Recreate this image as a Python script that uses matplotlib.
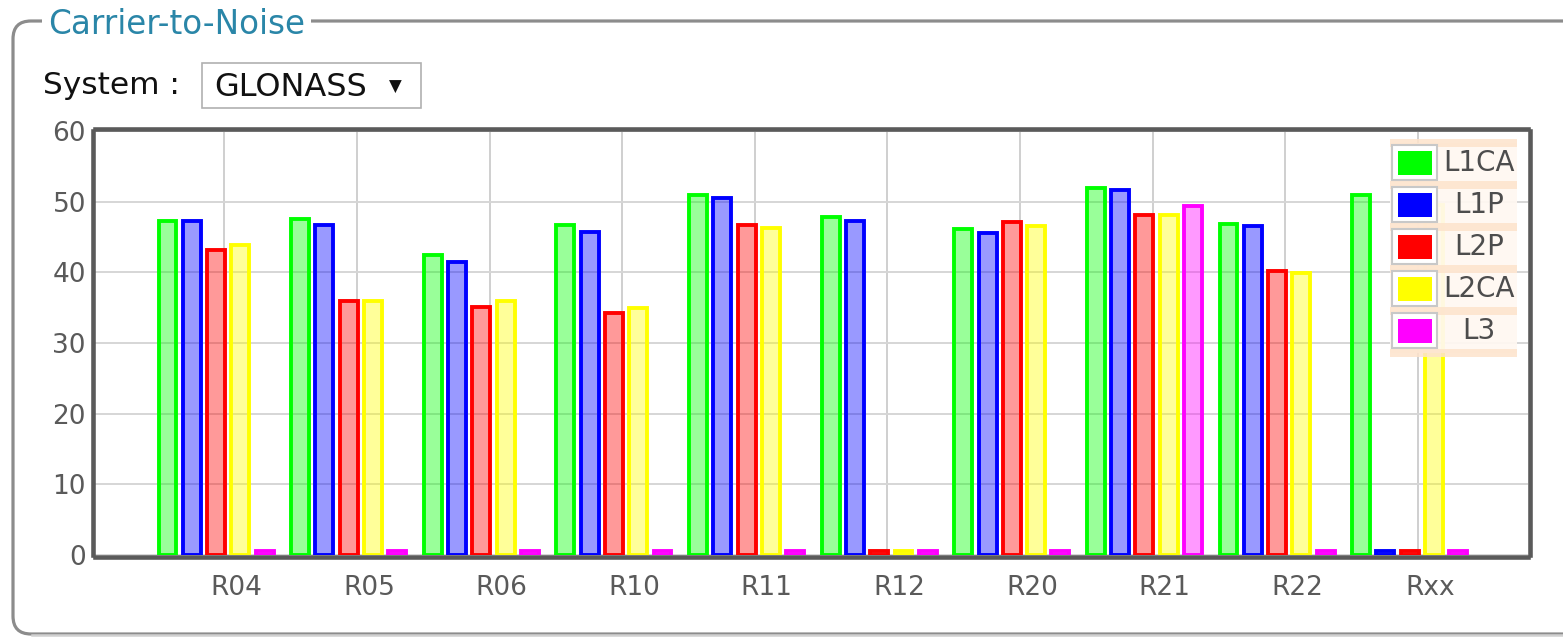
import matplotlib
matplotlib.use('Agg')
import matplotlib.pyplot as plt
import numpy as np
from matplotlib.colors import to_rgba
from matplotlib.patches import Rectangle, FancyBboxPatch

# carrier-to-noise per satellite (dB-Hz)
sats = ['R04', 'R05', 'R06', 'R10', 'R11', 'R12', 'R20', 'R21', 'R22', 'Rxx']
l1ca = [47.3, 47.6, 42.4, 46.7, 51.0, 47.9, 46.1, 51.9, 46.8, 51.0]
l1p = [47.3, 46.7, 41.4, 45.7, 50.5, 47.3, 45.6, 51.6, 46.5, 0]
l2p = [43.1, 36.0, 35.1, 34.3, 46.7, 0, 47.1, 48.1, 40.2, 0]
l2ca = [43.9, 36.0, 36.0, 35.0, 46.3, 0, 46.6, 48.1, 39.9, 49.5]
l3 = [0, 0, 0, 0, 0, 0, 0, 49.4, 0, 0]

names = ['L1CA', 'L1P', 'L2P', 'L2CA', 'L3']
series = [l1ca, l1p, l2p, l2ca, l3]
colors = ['#00ff00', '#0000ff', '#ff0000', '#ffff00', '#ff00ff']

W, H = 1563, 637
fig = plt.figure(figsize=(W / 100, H / 100), dpi=100)

# background layer in pixel coords: fieldset frame, title, system selector
bg = fig.add_axes([0, 0, 1, 1])
bg.set_xlim(0, W)
bg.set_ylim(H, 0)
bg.axis('off')

frame = FancyBboxPatch((13, 21), 1700, 613, boxstyle='round,pad=0,rounding_size=18',
                       fc='white', ec='#8c8c8c', lw=2.3)
bg.add_patch(frame)
bg.plot([32, W], [634.5, 634.5], color='#d0d0d0', lw=1.8)
bg.text(48, 25, 'Carrier-to-Noise', color='#2a86a8', fontsize=23.5, va='center', ha='left',
        bbox=dict(facecolor='white', edgecolor='none', pad=4))
bg.text(43, 86, 'System :', fontsize=22.5, va='center', ha='left', color='#111111')
bg.add_patch(Rectangle((202, 63), 219, 45, fc='white', ec='#b0b0b0', lw=1.2))
bg.text(214, 87, 'GLONASS', fontsize=23, va='center', ha='left', color='#111111')
bg.text(395, 87, '\u25bc', fontsize=12, va='center', ha='center', color='#111111')

# chart
ax = fig.add_axes([95 / W, 1 - 555 / H, (1528 - 95) / W, (555 - 131) / H])
x = np.arange(len(sats))
offsets = [-0.428, -0.245, -0.062, 0.121, 0.304]
for k in range(len(series)):
    v = np.array(series[k], dtype=float)
    shown = np.where(v > 0, v, 0.5)  # library draws empty values as a small stub
    ax.bar(x + offsets[k], shown, width=0.135, color=to_rgba(colors[k], 0.4),
           edgecolor=colors[k], linewidth=2.8, zorder=3)

ax.set_xlim(-0.975, 9.83)
ax.set_ylim(0, 60)
ax.set_yticks(np.arange(0, 61, 10))
ax.set_xticks(x + 0.09, sats)
ax.set_xticks(x, minor=True)
ax.grid(which='minor', axis='x', color='#cfcfcf', lw=1.4, zorder=0)
ax.grid(which='major', axis='y', color='#d6d6d6', lw=1.4, zorder=0)
ax.tick_params(which='both', length=0)
ax.tick_params(axis='y', labelsize=19, labelcolor='#5a5a5a', pad=5)
ax.tick_params(axis='x', labelsize=19, labelcolor='#5a5a5a', pad=13)
for s in ax.spines.values():
    s.set_color('#5a5a5a')
    s.set_linewidth(3.3)
    s.set_position(('outward', 1.5))
    s.set_capstyle('projecting')
    s.set_zorder(5)

# legend overlay
ov = fig.add_axes([0, 0, 1, 1])
ov.set_xlim(0, W)
ov.set_ylim(H, 0)
ov.axis('off')
ov.patch.set_alpha(0)
row_h = 42
top = 143
ov.add_patch(Rectangle((1390, top), 127, row_h * len(names), fc='#fff8f1', ec='none', alpha=0.93))
for i in range(len(names) + 1):
    ov.add_patch(Rectangle((1390, top + row_h * i - 4), 127, 8, fc='#fde3cc', ec='none', alpha=0.85))
for i, (name, col) in enumerate(zip(names, colors)):
    y0 = top + row_h * i
    ov.add_patch(Rectangle((1392, y0 + 2), 45, 35, fc='white', ec='#c8c8c8', lw=1.5))
    ov.add_patch(Rectangle((1398, y0 + 8), 34, 24, fc=col, ec='none'))
    ov.text(1479, y0 + 20, name, ha='center', va='center', fontsize=20, color='#4d4d4d')

fig.savefig('out.png', dpi=100)
